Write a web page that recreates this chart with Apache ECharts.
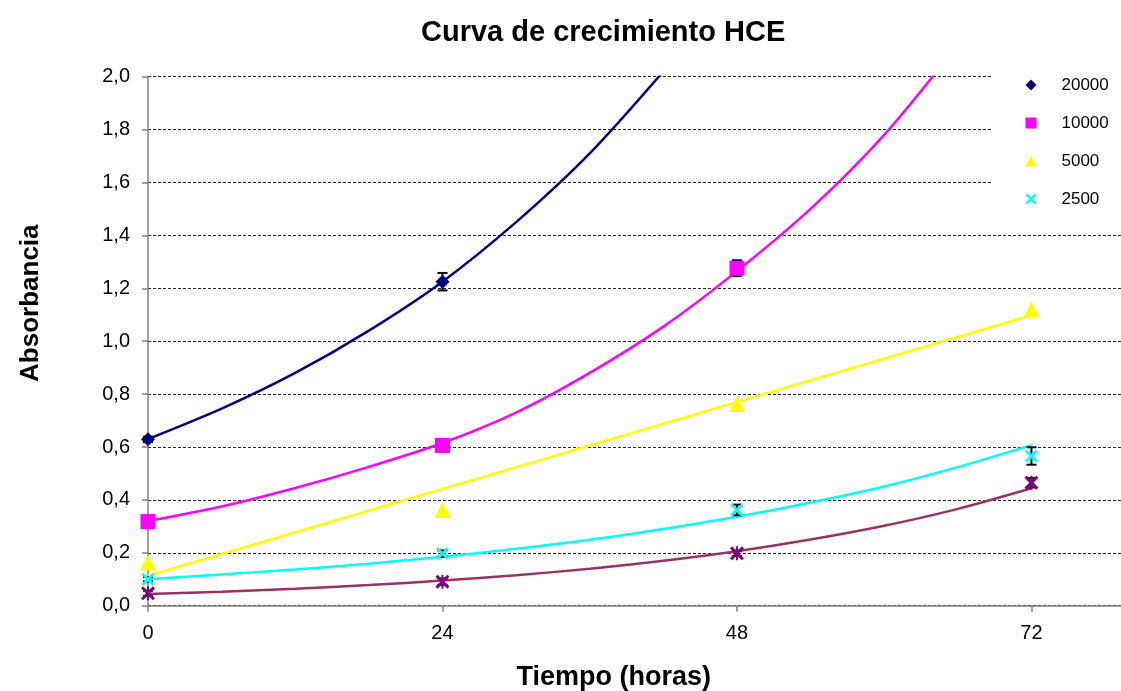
<!DOCTYPE html>
<html>
<head>
<meta charset="utf-8">
<script src="https://cdn.jsdelivr.net/npm/echarts@6/dist/echarts.min.js"></script>
<style>
html,body{margin:0;padding:0;background:#fff;}
#chart{width:1121px;height:691px;}
</style>
</head>
<body>
<div id="chart"></div>
<script>
// ---- data ----
const hours = [0, 24, 48, 72];
const xTicks = [0, 24, 48, 72];
const yTicks = ['0,0','0,2','0,4','0,6','0,8','1,0','1,2','1,4','1,6','1,8','2,0'];

const s20000 = [0.629, 1.225];
const s10000 = [0.318, 0.606, 1.276];
const s5000  = [0.163, 0.362, 0.763, 1.120];
const s2500  = [0.100, 0.197, 0.362, 0.566];
const s1250  = [0.047, 0.091, 0.198, 0.465];

const e20000 = [0.010, 0.033];
const e10000 = [0.008, 0.010, 0.030];
const e5000  = [0, 0, 0, 0];
const e2500  = [0.008, 0.012, 0.020, 0.033];
const e1250  = [0.010, 0.012, 0.010, 0.018];

// trend lines, values
const trendHours = [0, 6, 12, 18, 24, 30, 36, 42, 48, 54, 60, 66, 72];
const t20000 = [0.630, 0.745, 0.880, 1.040, 1.225, 1.450, 1.710, 2.020];
const t10000 = [0.320, 0.375, 0.445, 0.525, 0.615, 0.730, 0.880, 1.055, 1.265, 1.500, 1.780, 2.120];
const t5000Hours = [0, 72];
const t5000  = [0.113, 1.098];
const t2500  = [0.100, 0.118, 0.137, 0.159, 0.185, 0.215, 0.249, 0.290, 0.336, 0.390, 0.451, 0.524, 0.607];
const t1250  = [0.044, 0.053, 0.064, 0.078, 0.095, 0.115, 0.140, 0.170, 0.206, 0.250, 0.302, 0.366, 0.444];

// ---- styling ----
const FONT = "'Liberation Sans', Arial, sans-serif";
const C20000 = '#000080', C10000 = '#FF00FF', C5000 = '#FFFF00', C2500 = '#00FFFF', C1250 = '#800080', T1250 = '#993366';
const XPATH = 'path://M0,1.5 L1.5,0 L5,3.5 L8.5,0 L10,1.5 L6.5,5 L10,8.5 L8.5,10 L5,6.5 L1.5,10 L0,8.5 L3.5,5 Z';
const STARPATH = 'path://M0,1.5 L1.5,0 L5,3.5 L8.5,0 L10,1.5 L6.5,5 L10,8.5 L8.5,10 L5,6.5 L1.5,10 L0,8.5 L3.5,5 Z M4.3,0 L5.7,0 L5.7,10 L4.3,10 Z';

function pts(xs, ys) { return ys.map((v, i) => [xs[i], v]); }
function errPts(vals, errs) { return vals.map((v, i) => [hours[i], v, errs[i]]); }

function trend(name, xs, ys, color, smooth) {
  return {
    name: name, type: 'line', data: pts(xs, ys), smooth: smooth ? 0.3 : false,
    showSymbol: false, symbol: 'none', clip: true, silent: true,
    lineStyle: { color: color, width: 2.5 }, itemStyle: { color: color }, z: 2
  };
}
function errBars(name, vals, errs) {
  return {
    name: name, type: 'custom', data: errPts(vals, errs), z: 3, silent: true,
    renderItem: function (params, api) {
      const x = api.value(0), y = api.value(1), e = api.value(2);
      if (!e) return null;
      const a = api.coord([x, y + e]), b = api.coord([x, y - e]);
      const hw = 5;
      const st = { stroke: '#000', lineWidth: 2 };
      return { type: 'group', children: [
        { type: 'line', shape: { x1: a[0], y1: a[1], x2: b[0], y2: b[1] }, style: st },
        { type: 'line', shape: { x1: a[0] - hw, y1: a[1], x2: a[0] + hw, y2: a[1] }, style: st },
        { type: 'line', shape: { x1: b[0] - hw, y1: b[1], x2: b[0] + hw, y2: b[1] }, style: st }
      ]};
    }
  };
}
function scatter(name, vals, color, symbol, size) {
  return {
    name: name, type: 'scatter', data: pts(hours, vals), symbol: symbol, symbolSize: size,
    itemStyle: { color: color, opacity: 1 }, z: 4
  };
}

const chart = echarts.init(document.getElementById('chart'), null, { renderer: 'canvas' });
chart.setOption({
  backgroundColor: '#ffffff',
  animation: false,
  textStyle: { fontFamily: FONT },
  title: {
    text: 'Curva de crecimiento HCE', left: 421, top: 18, padding: 0,
    textStyle: { fontFamily: FONT, fontSize: 29, fontWeight: 'bold', color: '#000' }
  },
  grid: { left: 148, right: -8.6, top: 76.7, bottom: 85.3, containLabel: false, outerBoundsMode: 'none' },
  legend: {
    orient: 'vertical', left: 992, top: 66, padding: [9, 60, 16, 33.5],
    backgroundColor: '#ffffff', itemWidth: 11, itemHeight: 11, itemGap: 18,
    selectedMode: false,
    textStyle: { fontFamily: FONT, fontSize: 17, color: '#000', lineHeight: 20, padding: [0, 0, 0, 20] },
    data: [
      { name: '20000', icon: 'diamond' },
      { name: '10000', icon: 'rect' },
      { name: '5000', icon: 'triangle' },
      { name: '2500', icon: XPATH }
    ]
  },
  xAxis: {
    type: 'value', min: 0, max: 80, interval: 24,
    name: 'Tiempo (horas)', nameLocation: 'middle', nameGap: 58,
    nameTextStyle: { fontFamily: FONT, fontSize: 27, fontWeight: 'bold', color: '#000', padding: [0, 50, 0, 0] },
    axisLine: { show: true, onZero: false, lineStyle: { color: '#808080', width: 1.5 } },
    axisTick: { show: true, length: 6, lineStyle: { color: '#808080', width: 1.5 },
      customValues: xTicks },
    axisLabel: { fontFamily: FONT, fontSize: 20, color: '#000', margin: 18,
      customValues: xTicks, formatter: v => String(v) },
    splitLine: { show: false }
  },
  yAxis: {
    type: 'value', min: 0, max: 2, interval: 0.2,
    name: 'Absorbancia', nameLocation: 'middle', nameGap: 104, nameRotate: 90,
    nameTextStyle: { fontFamily: FONT, fontSize: 26, fontWeight: 'bold', color: '#000', padding: [0, 0, 0, 76] },
    axisLine: { show: true, lineStyle: { color: '#808080', width: 1.5 } },
    axisTick: { show: true, length: 6, lineStyle: { color: '#808080', width: 1.5 } },
    axisLabel: { fontFamily: FONT, fontSize: 20, color: '#000', margin: 18,
      formatter: function (v) { return yTicks[Math.round(v / 0.2)]; } },
    splitLine: { show: true, lineStyle: { color: '#222', width: 1, type: [3, 2] } }
  },
  series: [
    trend('Tendencia 20000', trendHours.slice(0, t20000.length), t20000, C20000, true),
    trend('Tendencia 10000', trendHours.slice(0, t10000.length), t10000, C10000, true),
    trend('Tendencia 5000', t5000Hours, t5000, C5000, false),
    trend('Tendencia 2500', trendHours, t2500, C2500, true),
    trend('Tendencia 1250', trendHours, t1250, T1250, true),
    errBars('Error 20000', s20000, e20000),
    errBars('Error 10000', s10000, e10000),
    errBars('Error 5000', s5000, e5000),
    errBars('Error 2500', s2500, e2500),
    errBars('Error 1250', s1250, e1250),
    scatter('20000', s20000, C20000, 'diamond', 14),
    scatter('10000', s10000, C10000, 'rect', 15),
    scatter('5000', s5000, C5000, 'triangle', 16),
    scatter('2500', s2500, C2500, XPATH, 13),
    scatter('1250', s1250, C1250, STARPATH, 14)
  ]
});
</script>
</body>
</html>
